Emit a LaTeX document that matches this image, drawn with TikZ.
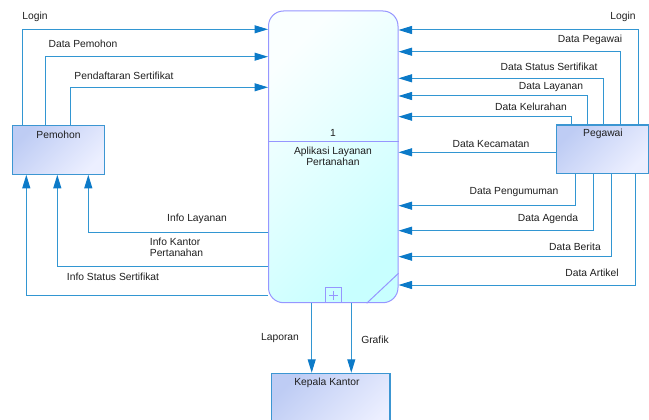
\documentclass[tikz,border=0pt]{standalone}
\usepackage{fontspec}
\setmainfont{Liberation Sans}
\usetikzlibrary{arrows.meta}
\definecolor{flowc}{RGB}{50,150,210}
\definecolor{headc}{RGB}{12,122,200}
\definecolor{procb}{RGB}{150,150,255}
\definecolor{proca}{RGB}{250,255,255}
\definecolor{procz}{RGB}{200,255,255}
\definecolor{enta}{RGB}{190,204,244}
\definecolor{entz}{RGB}{236,239,255}
\definecolor{entb}{RGB}{60,150,210}
\definecolor{txt}{RGB}{30,30,30}
\tikzset{
  flow/.style={draw=flowc, line width=1pt, -{Triangle[length=13.5pt,width=8pt,color=headc]}},
  procbox/.style={draw=procb, line width=1pt, rounded corners=15pt, top color=proca, bottom color=procz, shading angle=45, inner sep=0pt},
  procline/.style={draw=procb, line width=1pt},
  entbox/.style={draw=entb, line width=1.1pt, top color=enta, bottom color=entz, shading angle=45, inner sep=0pt},
  lbl/.style={text=txt, font=\fontsize{10.3}{12}\selectfont, inner sep=0pt}
}
\begin{document}
\begin{tikzpicture}[x=1pt,y=-1pt]
\useasboundingbox (0,0) rectangle (649,420);
\clip (0,0) rectangle (649,420);
% process
\node[procbox, minimum width=129.5pt, minimum height=291.7pt] (proc) at (333.25,156.85) {};
\draw[procline] (proc.west |- 0,141.7) -- (proc.east |- 0,141.7);
\node[lbl] (pnum) at (333,133) {1};
\node[lbl, align=center] (pname) at (333,156.5) {Aplikasi Layanan\\[-1pt]Pertanahan};
\node[draw=procb, line width=1pt, minimum width=16.7pt, minimum height=15.4pt, inner sep=0pt] (plus) at (333.6,295) {};
\draw[procline, line width=0.8pt] ([xshift=-4.5pt]plus.center) -- ([xshift=4.5pt]plus.center);
\draw[procline, line width=0.8pt] ([yshift=-4.5pt]plus.center) -- ([yshift=4.5pt]plus.center);
\draw[procline] (proc.south -| 366.7,0) -- (proc.east |- 0,273.3);
% entities
\node[entbox, minimum width=91.6pt, minimum height=49pt] (pem) at (58.5,149.8) {};
\node[lbl] (pemt) at (58.5,134.5) {Pemohon};
\node[entbox, minimum width=92pt, minimum height=48.3pt] (peg) at (602.7,149.2) {};
\node[lbl] (pegt) at (603,133.5) {Pegawai};
\node[entbox, minimum width=118.3pt, minimum height=60pt] (kep) at (330.85,403.3) {};
\node[lbl] (kept) at (327,382.5) {Kepala Kantor};
% Pemohon -> process
\draw[flow] (pem.north -| 22.3,0) |- (proc.west |- 0,29.3);
\draw[flow] (pem.north -| 45.7,0) |- (proc.west |- 0,56.7);
\draw[flow] (pem.north -| 70,0) |- (proc.west |- 0,87.3);
\node[lbl] (l1) at (35,16.5) {Login};
\node[lbl] (l2) at (83,44.3) {Data Pemohon};
\node[lbl] (l3) at (124,76) {Pendaftaran Sertifikat};
% process -> Pemohon
\draw[flow] (proc.west |- 0,232.7) -| (pem.south -| 88.3,0);
\draw[flow] (proc.west |- 0,266.7) -| (pem.south -| 57.3,0);
\draw[flow] (proc.west |- 0,295) -| (pem.south -| 26.3,0);
\node[lbl] (l4) at (197,218.7) {Info Layanan};
\node[lbl, align=left, anchor=north west] (l5) at (149.7,238) {Info Kantor\\[-1pt]Pertanahan};
\node[lbl] (l6) at (113,277.3) {Info Status Sertifikat};
% Pegawai -> process
\draw[flow] (peg.north -| 638.3,0) |- (proc.east |- 0,30);
\draw[flow] (peg.north -| 620.7,0) |- (proc.east |- 0,51.7);
\draw[flow] (peg.north -| 603.3,0) |- (proc.east |- 0,78.3);
\draw[flow] (peg.north -| 587.3,0) |- (proc.east |- 0,96);
\draw[flow] (peg.north -| 571.7,0) |- (proc.east |- 0,116.7);
\draw[flow] (peg.west |- 0,152.3) -- (proc.east |- 0,152.3);
\draw[flow] (peg.south -| 575,0) |- (proc.east |- 0,205.7);
\draw[flow] (peg.south -| 593.3,0) |- (proc.east |- 0,230.7);
\draw[flow] (peg.south -| 611.7,0) |- (proc.east |- 0,256.7);
\draw[flow] (peg.south -| 635,0) |- (proc.east |- 0,285);
\node[lbl] (r1) at (623,16.7) {Login};
\node[lbl] (r2) at (590,40) {Data Pegawai};
\node[lbl] (r3) at (549,66.7) {Data Status Sertifikat};
\node[lbl] (r4) at (551,87.3) {Data Layanan};
\node[lbl] (r5) at (531,107.3) {Data Kelurahan};
\node[lbl] (r6) at (491,144.3) {Data Kecamatan};
\node[lbl] (r7) at (514,191.7) {Data Pengumuman};
\node[lbl] (r8) at (548,218.7) {Data Agenda};
\node[lbl] (r9) at (575,246.7) {Data Berita};
\node[lbl] (r10) at (592,273.3) {Data Artikel};
% process -> Kepala Kantor
\draw[flow] (proc.south -| 311.7,0) -- (kep.north -| 311.7,0);
\draw[flow] (proc.south -| 351.3,0) -- (kep.north -| 351.3,0);
\node[lbl] (d1) at (280,337.7) {Laporan};
\node[lbl] (d2) at (375,339.7) {Grafik};
\end{tikzpicture}
\end{document}
